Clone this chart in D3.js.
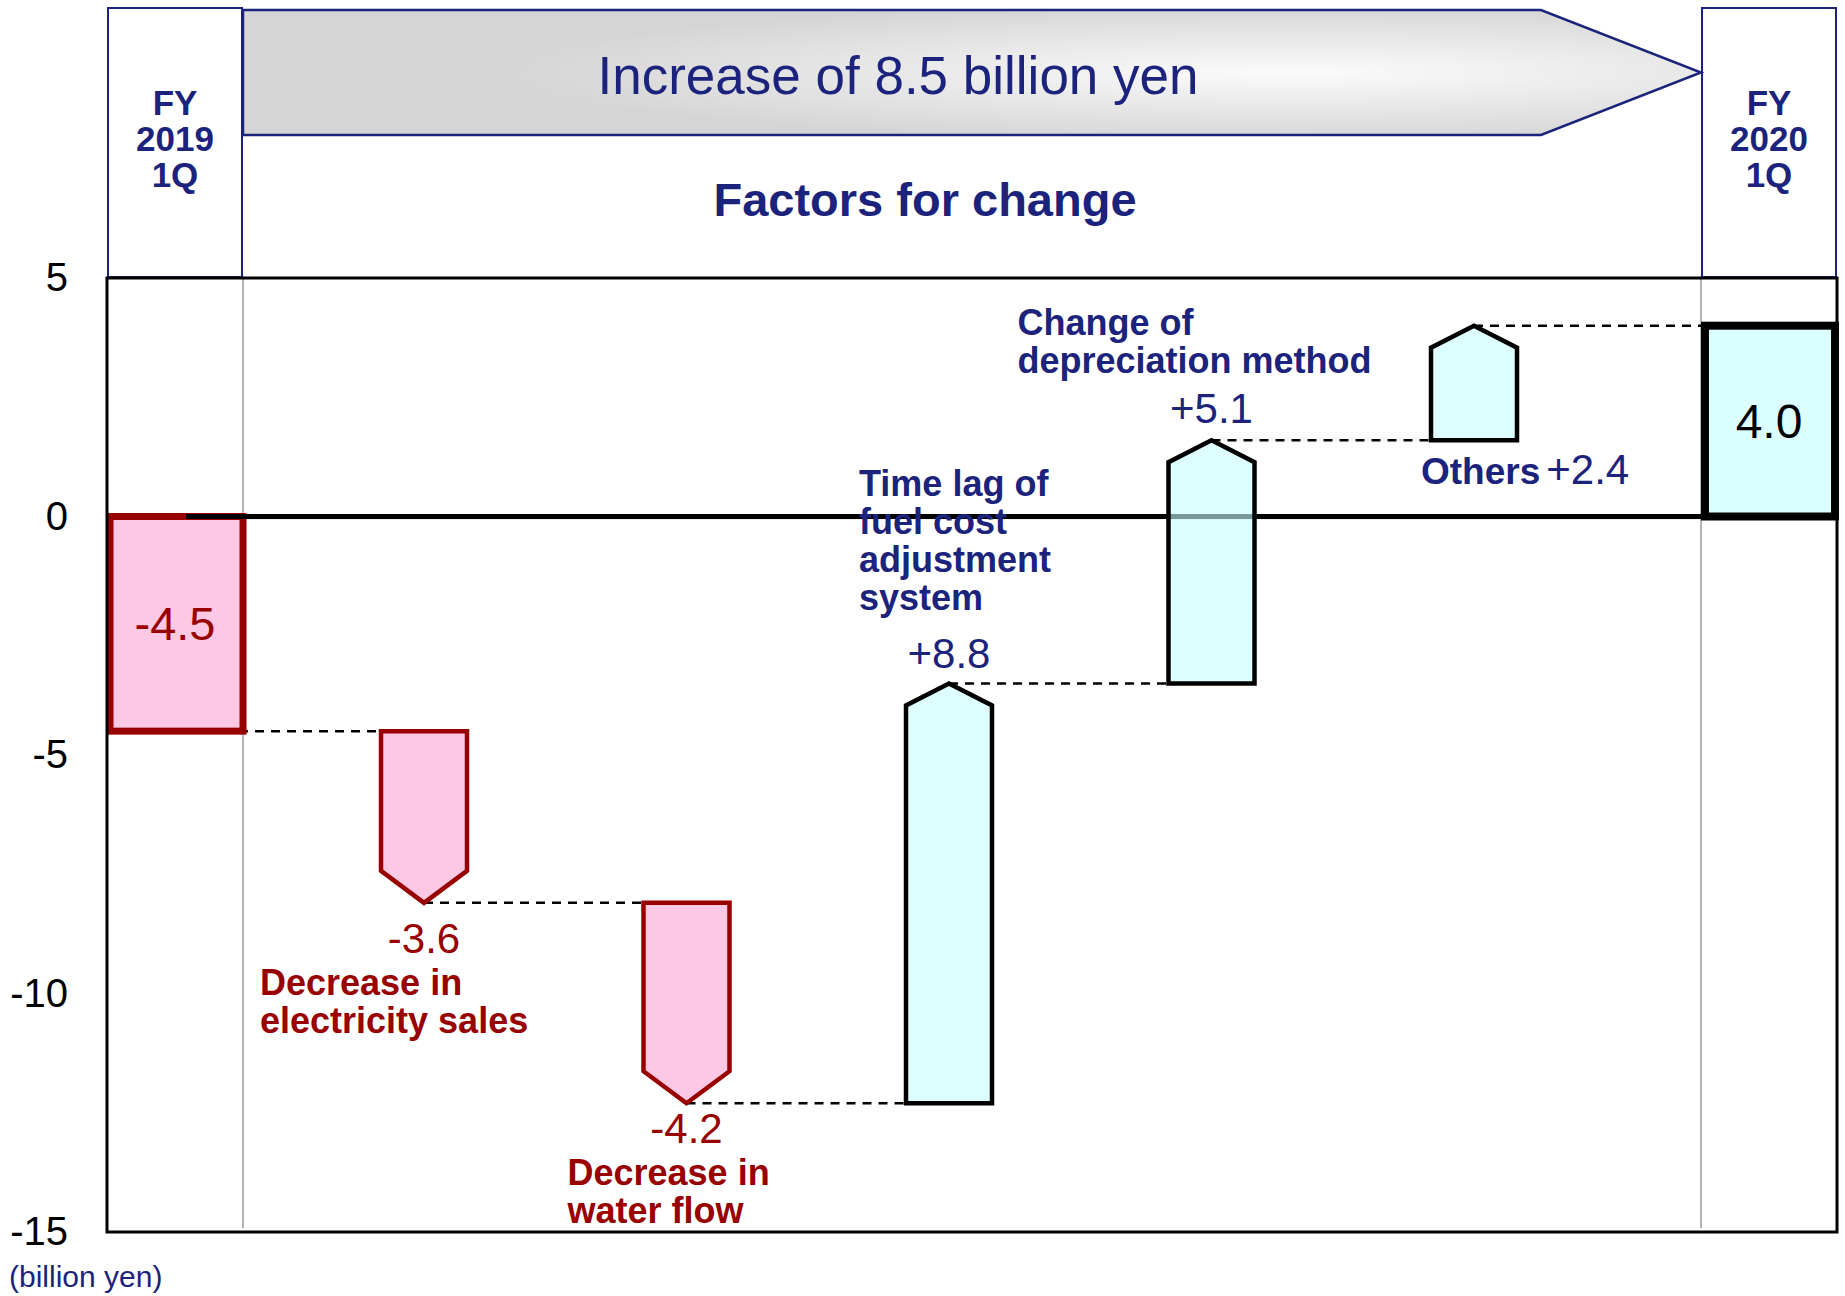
<!DOCTYPE html>
<html lang="en">
<head>
<meta charset="UTF-8">
<script src="https://d3js.org/d3.v7.min.js"></script>
<title>Factors for change</title>
<style>
    body { margin: 0; background: #fff; }
    svg text { font-family: "Liberation Sans", Arial, sans-serif; }
</style>
</head>
<body>
<script>
    // data
    const categories = ["FY2019 1Q", "Decrease in electricity sales", "Decrease in water flow",
        "Time lag of fuel cost adjustment system", "Change of depreciation method", "Others", "FY2020 1Q"];
    const values = [-4.5, -3.6, -4.2, 8.8, 5.1, 2.4, 4.0];
    const valueLabels = ["-4.5", "-3.6", "-4.2", "+8.8", "+5.1", "+2.4", "4.0"];
    const nameLines = [
        ["Decrease in", "electricity sales"],
        ["Decrease in", "water flow"],
        ["Time lag of", "fuel cost", "adjustment", "system"],
        ["Change of", "depreciation method"],
        ["Others"]
    ];
    const yTicks = [5, 0, -5, -10, -15];
    const periodLabels = [["FY", "2019", "1Q"], ["FY", "2020", "1Q"]];
    const bannerText = "Increase of 8.5 billion yen";
    const headerText = "Factors for change";
    const unitText = "(billion yen)";

    // layout
    const W = 1845, H = 1296;
    const plot = {left: 107, right: 1837, top: 278, bottom: 1232};
    const endColW = 136;
    const arrowW = 86;
    const lineGap = 38;
    const navy = "#1c237c", red = "#990000";
    const pink = "#fdc8e4", cyan = "#dcffff";

    const svg = d3.select("body").append("svg")
        .attr("width", W)
        .attr("height", H);

    const defs = svg.append("defs");
    const grad = defs.append("radialGradient")
        .attr("id", "bannerFill")
        .attr("cx", 0.72).attr("cy", 0.5).attr("r", 0.55);
    grad.append("stop").attr("offset", 0).attr("stop-color", "#fbfbfb");
    grad.append("stop").attr("offset", 1).attr("stop-color", "#d5d5d5");

    const y = d3.scaleLinear().domain([-15, 5]).range([plot.bottom, plot.top]);

    const factors = categories.slice(1, -1);
    const xF = d3.scalePoint().domain(factors).range([424, 1474]);
    const firstCol = [plot.left, plot.left + endColW];
    const lastCol = [plot.right - endColW, plot.right];

    // running totals
    let run = 0;
    const steps = values.map((v, i) => {
        let start, end;
        if (i === 0) { start = 0; end = v; run = v; }
        else if (i === values.length - 1) { start = 0; end = v; }
        else { start = run; end = run + v; run = end; }
        return {name: categories[i], value: v, label: valueLabels[i], start, end, i};
    });
    const factorSteps = steps.slice(1, -1);

    // header boxes
    [firstCol, lastCol].forEach((col, k) => {
        svg.append("rect")
            .attr("x", col[0] + 1).attr("y", 8)
            .attr("width", col[1] - col[0] - 2).attr("height", plot.top - 9)
            .attr("fill", "#fff")
            .attr("stroke", navy).attr("stroke-width", 2);
        svg.append("text")
            .attr("text-anchor", "middle")
            .attr("font-weight", "bold")
            .attr("font-size", 35)
            .attr("fill", navy)
            .selectAll("tspan")
            .data(periodLabels[k])
            .join("tspan")
            .attr("x", (col[0] + col[1]) / 2)
            .attr("y", (d, j) => 115 + j * 36)
            .text(d => d);
    });

    // banner arrow
    const bx0 = firstCol[1], bx1 = lastCol[0], bTop = 10, bBot = 135;
    svg.append("path")
        .attr("d", d3.line()([[bx0, bTop], [bx1 - 160, bTop], [bx1, (bTop + bBot) / 2], [bx1 - 160, bBot], [bx0, bBot]]) + "Z")
        .attr("fill", "url(#bannerFill)")
        .attr("stroke", navy).attr("stroke-width", 2.5);

    svg.append("text")
        .attr("x", 898).attr("y", 75).attr("dy", "0.35em")
        .attr("text-anchor", "middle")
        .attr("font-size", 53)
        .attr("fill", navy)
        .text(bannerText);

    svg.append("text")
        .attr("x", 925).attr("y", 200).attr("dy", "0.35em")
        .attr("text-anchor", "middle")
        .attr("font-size", 47).attr("font-weight", "bold")
        .attr("fill", navy)
        .text(headerText);

    // plot background and guides
    svg.append("rect")
        .attr("x", plot.left).attr("y", plot.top)
        .attr("width", plot.right - plot.left).attr("height", plot.bottom - plot.top)
        .attr("fill", "#fff");

    svg.append("line")
        .attr("x1", plot.left).attr("x2", plot.right)
        .attr("y1", y(0) + 2).attr("y2", y(0) + 2)
        .attr("stroke", "#c8c8c8").attr("stroke-width", 1.5);

    [firstCol[1], lastCol[0]].forEach(x => {
        svg.append("line")
            .attr("x1", x).attr("x2", x)
            .attr("y1", plot.top).attr("y2", plot.bottom - 4)
            .attr("stroke", "#808080").attr("stroke-width", 1.2);
    });

    // y axis
    const yAxis = svg.append("g")
        .attr("transform", `translate(${plot.left},0)`)
        .call(d3.axisLeft(y).tickValues(yTicks).tickSize(0).tickPadding(39).tickFormat(d => String(d)));
    yAxis.select(".domain").remove();
    yAxis.selectAll("text")
        .attr("font-size", 40)
        .attr("font-family", "\"Liberation Sans\", Arial, sans-serif")
        .attr("fill", "#000");

    svg.append("text")
        .attr("x", 9).attr("y", 1276).attr("dy", "0.35em")
        .attr("font-size", 30)
        .attr("fill", navy)
        .text(unitText);

    // dashed connectors
    const tipX = s => s.i === 0 ? (firstCol[0] + firstCol[1]) / 2 : xF(s.name);
    const leftX = s => s.i === steps.length - 1 ? lastCol[0] : xF(s.name) - arrowW / 2;
    const links = [];
    for (let i = 0; i < steps.length - 1; i++) {
        links.push({x1: tipX(steps[i]), x2: leftX(steps[i + 1]), v: steps[i + 1].i === steps.length - 1 ? steps[i + 1].end : steps[i + 1].start});
    }
    svg.append("g").selectAll("line")
        .data(links)
        .join("line")
        .attr("x1", d => d.x1).attr("x2", d => d.x2)
        .attr("y1", d => y(d.v)).attr("y2", d => y(d.v))
        .attr("stroke", "#000").attr("stroke-width", 2.5)
        .attr("stroke-dasharray", "9,7");

    // starting bar
    const s0 = steps[0];
    svg.append("rect")
        .attr("x", firstCol[0] + 3).attr("y", y(s0.start))
        .attr("width", firstCol[1] - firstCol[0] - 3).attr("height", y(s0.end) - y(s0.start))
        .attr("fill", pink)
        .attr("stroke", red).attr("stroke-width", 7);

    // zero line
    svg.append("line")
        .attr("x1", 186).attr("x2", lastCol[0])
        .attr("y1", y(0)).attr("y2", y(0))
        .attr("stroke", "#000").attr("stroke-width", 5);

    // factor arrows
    const arrowPath = s => {
        const cx = xF(s.name), x0 = cx - arrowW / 2, x1 = cx + arrowW / 2;
        const y0 = y(s.start), y1 = y(s.end);
        if (s.value >= 0) {
            const h = 22;
            return d3.line()([[x0, y0], [x0, y1 + h], [cx, y1], [x1, y1 + h], [x1, y0]]) + "Z";
        }
        const h = 32;
        return d3.line()([[x0, y0], [x1, y0], [x1, y1 - h], [cx, y1], [x0, y1 - h]]) + "Z";
    };
    svg.append("g").selectAll("path")
        .data(factorSteps)
        .join("path")
        .attr("d", arrowPath)
        .attr("fill", d => d.value < 0 ? pink : "#c6ffff")
        .attr("fill-opacity", d => d.value < 0 ? 1 : 0.6)
        .attr("stroke", d => d.value < 0 ? red : "#000")
        .attr("stroke-width", 4.5)
        .attr("stroke-linejoin", "miter");

    // final bar
    const sN = steps[steps.length - 1];
    svg.append("rect")
        .attr("x", lastCol[0] + 4).attr("y", y(sN.end))
        .attr("width", lastCol[1] - lastCol[0] - 6).attr("height", y(sN.start) - y(sN.end))
        .attr("fill", cyan)
        .attr("stroke", "#000").attr("stroke-width", 8);

    // frame
    svg.append("rect")
        .attr("x", plot.left).attr("y", plot.top)
        .attr("width", plot.right - plot.left).attr("height", plot.bottom - plot.top)
        .attr("fill", "none")
        .attr("stroke", "#000").attr("stroke-width", 3);

    // end values
    svg.append("text")
        .attr("x", (firstCol[0] + firstCol[1]) / 2).attr("y", (y(s0.start) + y(s0.end)) / 2).attr("dy", "0.35em")
        .attr("text-anchor", "middle").attr("font-size", 47).attr("fill", red)
        .text(s0.label);
    svg.append("text")
        .attr("x", (lastCol[0] + lastCol[1]) / 2).attr("y", (y(sN.start) + y(sN.end)) / 2).attr("dy", "0.35em")
        .attr("text-anchor", "middle").attr("font-size", 48).attr("fill", "#000")
        .text(sN.label);

    // factor annotations: offsets from the arrow tip (or base)
    const noteLayout = [
        {vdy: 35, ndx: -164, ndy: 80},
        {vdy: 25, ndx: -119, ndy: 69},
        {vdy: -30, ndx: -90, ndy: -200},
        {vdy: -32, ndx: -194, ndy: -118},
        {inline: true, ndx: -53, ndy: 38}
    ];
    factorSteps.forEach((s, k) => {
        const L = noteLayout[k];
        const cx = xF(s.name);
        const col = s.value < 0 ? red : navy;
        if (L.inline) {
            const t = svg.append("text")
                .attr("x", cx + L.ndx).attr("y", y(s.start) + L.ndy).attr("dy", "0.35em")
                .attr("fill", col);
            t.append("tspan").attr("font-weight", "bold").attr("font-size", 37).text(nameLines[k][0]);
            t.append("tspan").attr("dx", 6).attr("font-size", 42).text(s.label);
            return;
        }
        svg.append("text")
            .attr("x", cx).attr("y", y(s.end) + L.vdy).attr("dy", "0.35em")
            .attr("text-anchor", "middle").attr("font-size", 42).attr("fill", col)
            .text(s.label);
        svg.append("text")
            .attr("font-weight", "bold").attr("font-size", 36).attr("fill", col)
            .selectAll("tspan")
            .data(nameLines[k])
            .join("tspan")
            .attr("x", cx + L.ndx)
            .attr("y", (d, j) => y(s.end) + L.ndy + j * lineGap)
            .attr("dy", "0.35em")
            .text(d => d);
    });
</script>
</body>
</html>
